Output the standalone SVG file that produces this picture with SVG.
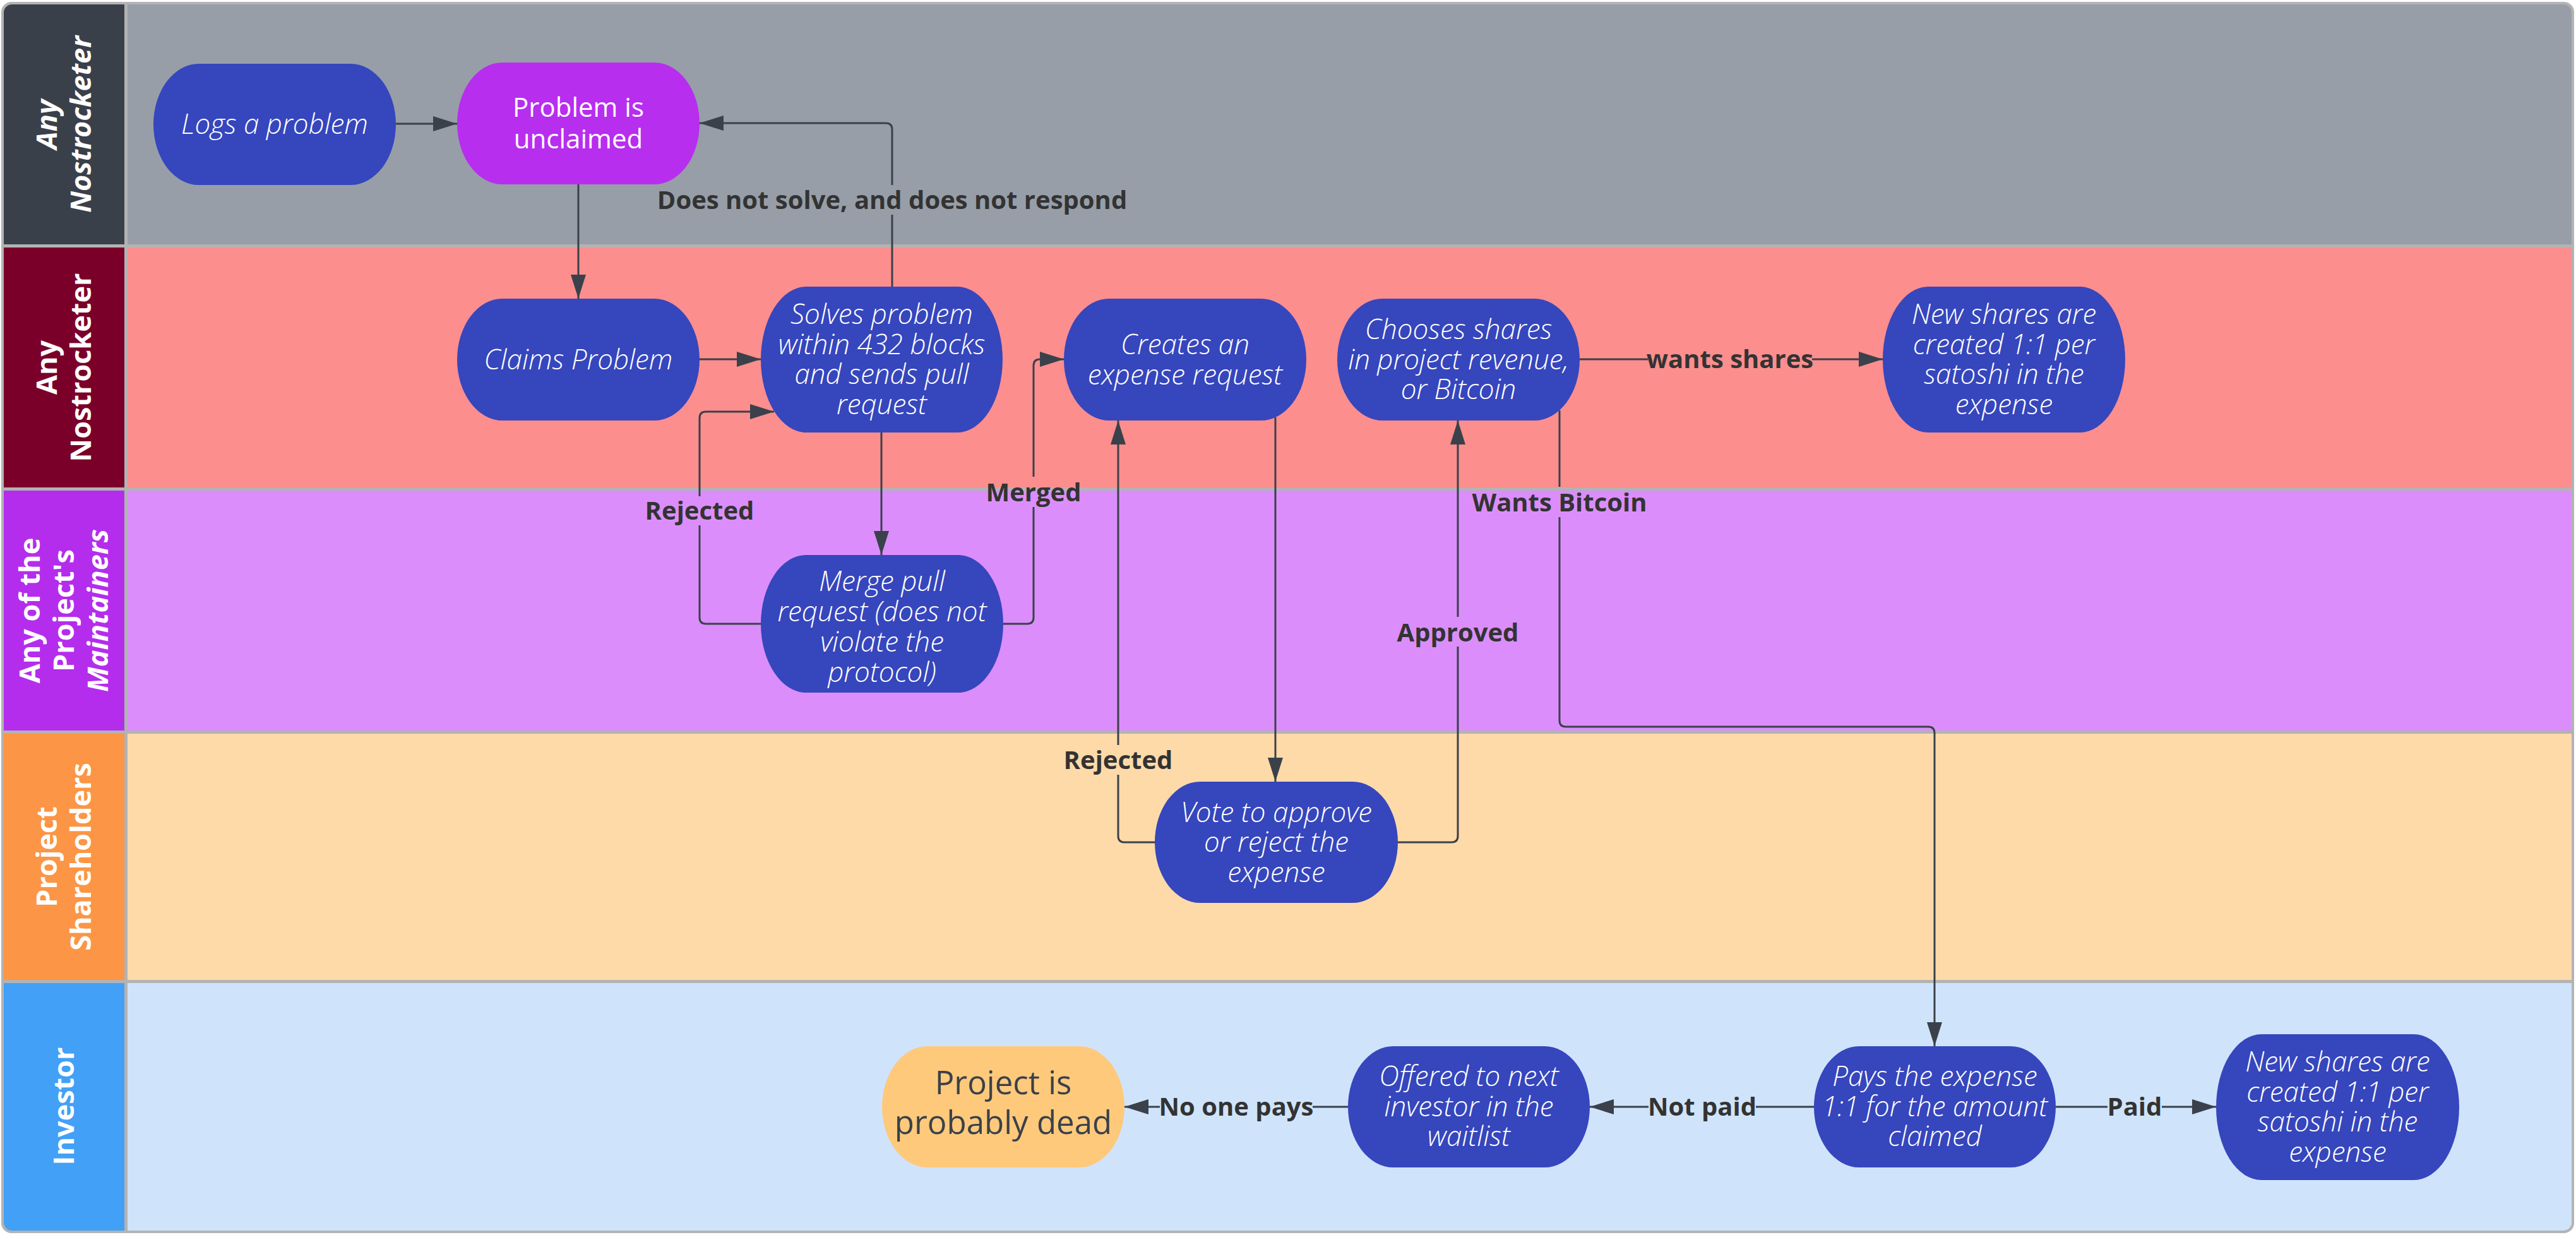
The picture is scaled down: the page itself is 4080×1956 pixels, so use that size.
<svg xmlns="http://www.w3.org/2000/svg" width="4080" height="1956" viewBox="0 0 4080 1956">
<style>
.hdr{font-family:"Open Sans","Noto Sans","Liberation Sans",sans-serif;font-weight:700;font-size:45px;fill:#FFFFFF;text-anchor:middle}
.it{font-style:italic}
.nt{font-family:"Open Sans","Noto Sans","Liberation Sans",sans-serif;font-style:italic;font-weight:300;font-size:44px;fill:#FFFFFF;text-anchor:middle}
.nr{font-family:"Open Sans","Noto Sans","Liberation Sans",sans-serif;font-weight:400;text-anchor:middle}
.lbl{font-family:"Open Sans","Noto Sans","Liberation Sans",sans-serif;font-weight:700;font-size:40px;fill:#333333;text-anchor:middle}
.conn{fill:none;stroke:#3A414A;stroke-width:3}
.blue{fill:#3646BD}
</style>
<defs>
<marker id="arr" markerUnits="userSpaceOnUse" markerWidth="38" markerHeight="24" refX="38" refY="12" orient="auto" viewBox="0 0 38 24">
<path d="M0,0 L38,12 L0,24 Z" fill="#3A414A"/>
</marker>
<clipPath id="inner"><rect x="6" y="7" width="4067" height="1942" rx="13"/></clipPath>
</defs>

<g id="lanes">
<rect x="2" y="3" width="4075" height="1950" rx="16" fill="#B3B3B3"/>
<g clip-path="url(#inner)">
<rect x="6" y="7" width="191" height="380" fill="#3A4049"/>
<rect x="202" y="7" width="3871" height="380" fill="#979EA8"/>
<rect x="6" y="392" width="191" height="380" fill="#7A0029"/>
<rect x="202" y="392" width="3871" height="380" fill="#FC8E8E"/>
<rect x="6" y="777" width="191" height="380" fill="#B42DEC"/>
<rect x="202" y="777" width="3871" height="380" fill="#DB8EFB"/>
<rect x="6" y="1162" width="191" height="390" fill="#FC9545"/>
<rect x="202" y="1162" width="3871" height="390" fill="#FFDAA9"/>
<rect x="6" y="1557" width="191" height="392" fill="#42A0F7"/>
<rect x="202" y="1557" width="3871" height="392" fill="#CFE4FB"/>
</g>
<g transform="translate(101,197) rotate(-90)"><text class="hdr it"><tspan x="0" y="-11">Any</tspan><tspan x="0" y="43">Nostrocketer</tspan></text></g>
<g transform="translate(101,582) rotate(-90)"><text class="hdr"><tspan x="0" y="-11">Any</tspan><tspan x="0" y="43">Nostrocketer</tspan></text></g>
<g transform="translate(101,967) rotate(-90)"><text class="hdr"><tspan x="0" y="-38">Any of the</tspan><tspan x="0" y="16">Project's</tspan><tspan x="0" y="70" class="it">Maintainers</tspan></text></g>
<g transform="translate(101,1357) rotate(-90)"><text class="hdr"><tspan x="0" y="-11">Project</tspan><tspan x="0" y="43">Shareholders</tspan></text></g>
<g transform="translate(101,1752) rotate(-90)"><text class="hdr"><tspan x="0" y="16">Investor</tspan></text></g>
</g>

<g id="connectors">
<path class="conn" d="M627,196 H724" marker-end="url(#arr)"/>
<path class="conn" d="M916,292 V473" marker-end="url(#arr)"/>
<path class="conn" d="M1108,569 H1205" marker-end="url(#arr)"/>
<path class="conn" d="M1413,454 V340"/>
<path class="conn" d="M1413,293 V205 Q1413,195 1403,195 H1108" marker-end="url(#arr)"/>
<text class="lbl" x="1413" y="331">Does not solve, and does not respond</text>
<path class="conn" d="M1396,685 V879" marker-end="url(#arr)"/>
<path class="conn" d="M1205,988 H1118 Q1108,988 1108,978 V832"/>
<path class="conn" d="M1108,786 V662 Q1108,652 1118,652 H1226" marker-end="url(#arr)"/>
<text class="lbl" x="1108" y="823">Rejected</text>
<path class="conn" d="M1589,988 H1627 Q1637,988 1637,978 V803"/>
<path class="conn" d="M1637,755 V579 Q1637,569 1647,569 H1685" marker-end="url(#arr)"/>
<text class="lbl" x="1637" y="794">Merged</text>
<path class="conn" d="M2020,661 V1238" marker-end="url(#arr)"/>
<path class="conn" d="M1829,1334 H1781 Q1771,1334 1771,1324 V1227"/>
<path class="conn" d="M1771,1180 V666" marker-end="url(#arr)"/>
<text class="lbl" x="1771" y="1218">Rejected</text>
<path class="conn" d="M2214,1334 H2299 Q2309,1334 2309,1324 V1024"/>
<path class="conn" d="M2309,977 V666" marker-end="url(#arr)"/>
<text class="lbl" x="2309" y="1016">Approved</text>
<path class="conn" d="M2502,569 H2610"/>
<path class="conn" d="M2870,569 H2982" marker-end="url(#arr)"/>
<text class="lbl" x="2740" y="583">wants shares</text>
<path class="conn" d="M2470,650 V771"/>
<path class="conn" d="M2470,819 V1141 Q2470,1151 2480,1151 H3054 Q3064,1151 3064,1161 V1657" marker-end="url(#arr)"/>
<text class="lbl" x="2470" y="810">Wants Bitcoin</text>
<path class="conn" d="M2873,1753 H2781"/>
<path class="conn" d="M2611,1753 H2518" marker-end="url(#arr)"/>
<text class="lbl" x="2696" y="1767">Not paid</text>
<path class="conn" d="M2135,1753 H2079"/>
<path class="conn" d="M1837,1753 H1781" marker-end="url(#arr)"/>
<text class="lbl" x="1958" y="1767">No one pays</text>
<path class="conn" d="M3256,1753 H3338"/>
<path class="conn" d="M3424,1753 H3510" marker-end="url(#arr)"/>
<text class="lbl" x="3381" y="1767">Paid</text>
</g>

<g id="n-logs"><rect class="blue" x="243" y="101" width="384" height="192" rx="72" ry="96"/><text class="nt"><tspan x="435" y="212">Logs a problem</tspan></text></g>
<g id="n-unclaimed"><rect x="724" y="99" width="384" height="193" rx="72" ry="96.5" fill="#B72EEF"/><text class="nr" font-size="42" fill="#FFFFFF"><tspan x="916" y="185">Problem is</tspan><tspan x="916" y="235">unclaimed</tspan></text></g>
<g id="n-claims"><rect class="blue" x="724" y="473" width="384" height="193" rx="72" ry="96.5"/><text class="nt"><tspan x="916" y="585">Claims Problem</tspan></text></g>
<g id="n-solves"><rect class="blue" x="1205" y="454" width="383" height="231" rx="72" ry="115.5"/><text class="nt"><tspan x="1396.5" y="513">Solves problem</tspan><tspan x="1396.5" y="560.5">within 432 blocks</tspan><tspan x="1396.5" y="608">and sends pull</tspan><tspan x="1396.5" y="655.5">request</tspan></text></g>
<g id="n-creates"><rect class="blue" x="1685" y="473" width="384" height="193" rx="72" ry="96.5"/><text class="nt"><tspan x="1877" y="561">Creates an</tspan><tspan x="1877" y="608.5">expense request</tspan></text></g>
<g id="n-chooses"><rect class="blue" x="2118" y="473" width="384" height="193" rx="72" ry="96.5"/><text class="nt"><tspan x="2310" y="537">Chooses shares</tspan><tspan x="2310" y="584.5">in project revenue,</tspan><tspan x="2310" y="632">or Bitcoin</tspan></text></g>
<g id="n-newshares1"><rect class="blue" x="2982" y="454" width="384" height="231" rx="72" ry="115.5"/><text class="nt"><tspan x="3174" y="513">New shares are</tspan><tspan x="3174" y="560.5">created 1:1 per</tspan><tspan x="3174" y="608">satoshi in the</tspan><tspan x="3174" y="655.5">expense</tspan></text></g>
<g id="n-merge"><rect class="blue" x="1205" y="879" width="384" height="218" rx="72" ry="109"/><text class="nt"><tspan x="1397" y="936">Merge pull</tspan><tspan x="1397" y="984">request (does not</tspan><tspan x="1397" y="1032">violate the</tspan><tspan x="1397" y="1080">protocol)</tspan></text></g>
<g id="n-vote"><rect class="blue" x="1829" y="1238" width="385" height="192" rx="72" ry="96"/><text class="nt"><tspan x="2021.5" y="1301.5">Vote to approve</tspan><tspan x="2021.5" y="1349">or reject the</tspan><tspan x="2021.5" y="1396.5">expense</tspan></text></g>
<g id="n-dead"><rect x="1397" y="1657" width="384" height="192" rx="72" ry="96" fill="#FFC97B"/><text class="nr" font-size="51" fill="#3A414A"><tspan x="1589" y="1733">Project is</tspan><tspan x="1589" y="1796">probably dead</tspan></text></g>
<g id="n-offered"><rect class="blue" x="2135" y="1657" width="383" height="192" rx="72" ry="96"/><text class="nt"><tspan x="2326.5" y="1720">Offered to next</tspan><tspan x="2326.5" y="1767.5">investor in the</tspan><tspan x="2326.5" y="1815">waitlist</tspan></text></g>
<g id="n-pays"><rect class="blue" x="2873" y="1657" width="383" height="192" rx="72" ry="96"/><text class="nt"><tspan x="3064.5" y="1720">Pays the expense</tspan><tspan x="3064.5" y="1767.5">1:1 for the amount</tspan><tspan x="3064.5" y="1815">claimed</tspan></text></g>
<g id="n-newshares2"><rect class="blue" x="3510" y="1638" width="385" height="231" rx="72" ry="115.5"/><text class="nt"><tspan x="3702.5" y="1697">New shares are</tspan><tspan x="3702.5" y="1744.5">created 1:1 per</tspan><tspan x="3702.5" y="1792">satoshi in the</tspan><tspan x="3702.5" y="1839.5">expense</tspan></text></g>
</svg>
